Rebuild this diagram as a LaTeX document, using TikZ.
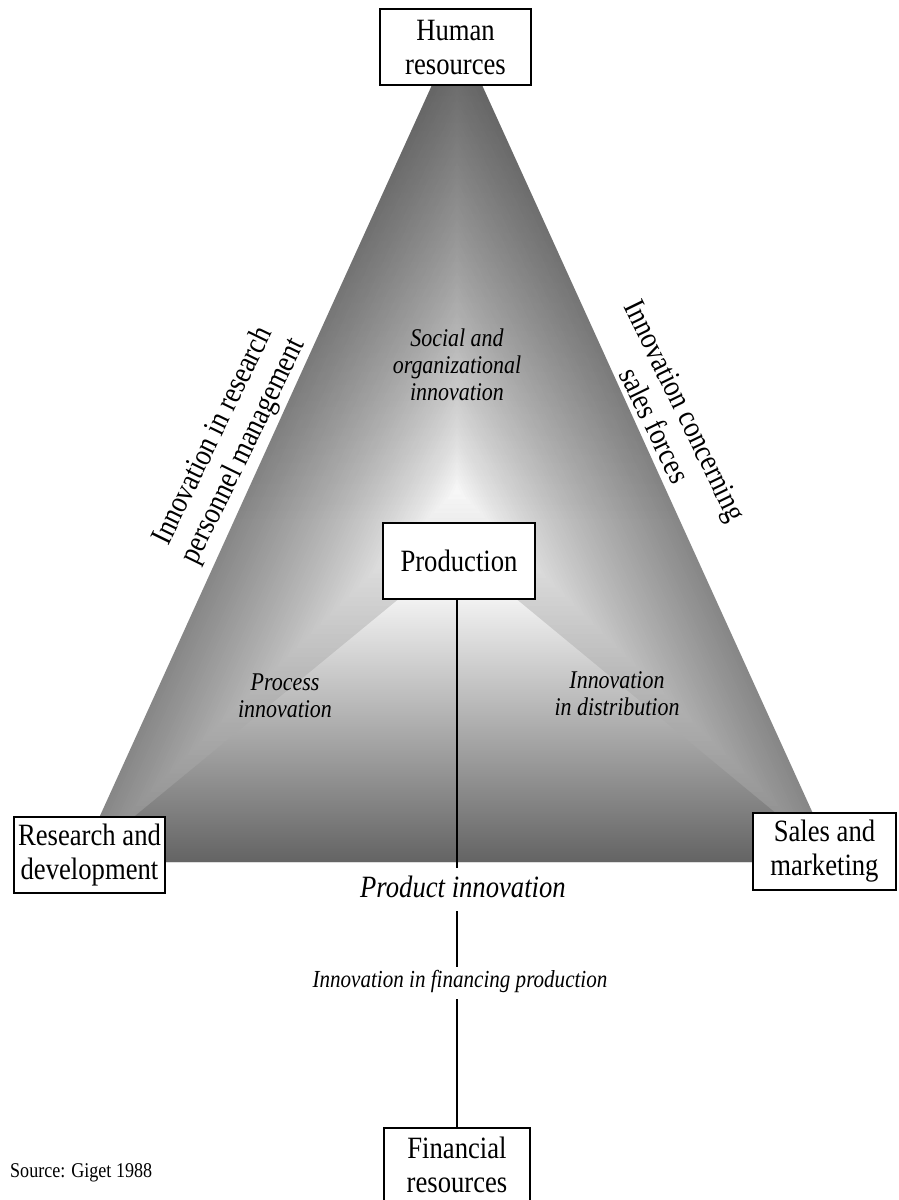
\documentclass[tikz,border=0pt]{standalone}
\usepackage{fontspec}
\setmainfont{Liberation Serif}[FakeStretch=0.86]
\usetikzlibrary{calc,fadings}
\tikzfading[name=topdark, top color=transparent!0, bottom color=transparent!100]
\begin{document}
\begin{tikzpicture}[x=1pt,y=-1pt,
  box/.style={draw=black, line width=1.3pt, fill=white, align=center, inner sep=0pt,
              font=\fontsize{31}{34}\selectfont},
  note/.style={align=center, font=\itshape\fontsize{25.5}{27}\selectfont},
  sidenote/.style={align=center, font=\fontsize{31}{34}\selectfont},
  stem/.style={line width=2.6pt}]
\useasboundingbox (0,0) rectangle (898,1200);
\fill[white] (0,0) rectangle (898,1200);

% triangle with a gradient running from its edges to a white centre
\coordinate (c) at (457,490);
\coordinate (A) at (457,30);
\coordinate (B) at (79,862);
\coordinate (C) at (835,862);
\foreach \i in {0,...,79}{
  \pgfmathsetmacro\s{1-\i/80}
  \pgfmathsetmacro\p{47*(\s^0.8)}
  \fill[black!\p] ($(c)!\s!(A)$) -- ($(c)!\s!(B)$) -- ($(c)!\s!(C)$) -- cycle;
}
% extra darkening towards the apex
\begin{scope}
  \clip (A) -- (B) -- (C) -- cycle;
  \fill[black, opacity=0.28, path fading=topdark] (60,30) rectangle (850,520);
\end{scope}

% lower sector below the production box
\shade[top color=black!5, bottom color=black!61]
  (400,598) -- (515,598) -- (C) -- (B) -- cycle;

% boxes
\node[box, minimum width=151pt, minimum height=76pt] (hr) at (455.5,47) {Human\\resources};
\node[box, minimum width=152pt, minimum height=76pt] (prod) at (459,561) {Production};
\node[box, minimum width=151pt, minimum height=76pt] (rd) at (89.5,855) {Research and\\development};
\node[box, minimum width=143pt, minimum height=77pt] (sm) at (824.5,851.5) {Sales and\\marketing};
\node[box, minimum width=146pt, minimum height=73pt] (fr) at (457,1164.5) {Financial\\resources};

% sector labels
\node[note] (soc) at (457,365) {Social and\\organizational\\innovation};
\node[note] (proc) at (285,696) {Process\\innovation};
\node[note] (dist) at (617,694) {Innovation\\in distribution};

% edge labels
\node[sidenote, rotate=64] (left) at (229,444) {Innovation in research\\personnel management};
\node[sidenote, rotate=-64] (right) at (670,418) {Innovation concerning\\sales forces};

% axis labels
\node[anchor=base, inner sep=0pt, font=\itshape\fontsize{31}{34}\selectfont] (pinno) at (463,897) {Product innovation};
\node[anchor=base, inner sep=0pt, font=\itshape\fontsize{24.5}{28}\selectfont] (finno) at (460,987) {Innovation in financing production};
\node[anchor=base west, inner sep=0pt, font=\fontsize{21}{24}\selectfont] (src) at (10,1177) {Source: Giget 1988};

% vertical axis
\coordinate (s1) at (457,868);
\coordinate (s2a) at (457,911);
\coordinate (s2b) at (457,967);
\coordinate (s3) at (457,999);
\draw[stem] (prod.south -| s1) -- (s1);
\draw[stem] (s2a) -- (s2b);
\draw[stem] (s3) -- (fr.north -| s3);
\end{tikzpicture}
\end{document}
